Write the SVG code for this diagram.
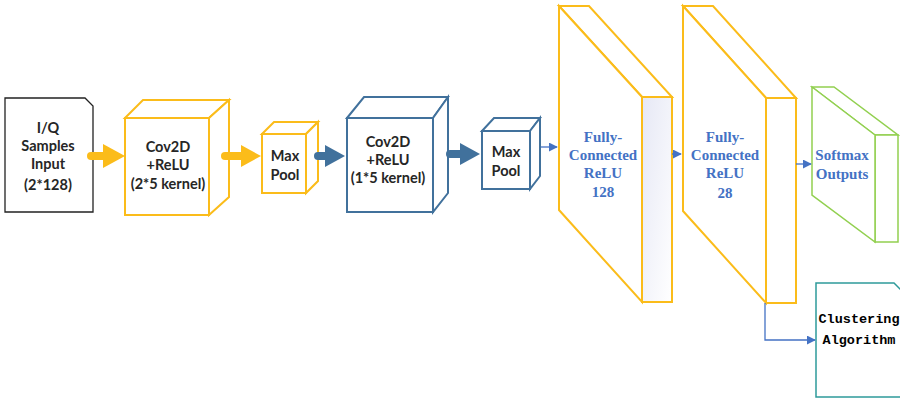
<svg xmlns="http://www.w3.org/2000/svg" width="900" height="401" viewBox="0 0 900 401">
<defs>
<linearGradient id="side" x1="0" y1="0" x2="1" y2="1">
<stop offset="0" stop-color="#e6e8f5"/>
<stop offset="1" stop-color="#ffffff"/>
</linearGradient>
<marker id="ah" viewBox="0 0 10 10" refX="9" refY="5" markerWidth="9" markerHeight="9" markerUnits="userSpaceOnUse" orient="auto">
<path d="M0,0 L10,5 L0,10 z" fill="#4472C4"/>
</marker>
<style>
.y{fill:#fff;stroke:#FBBC1A;stroke-width:2;stroke-linejoin:miter}
.b{fill:#fff;stroke:#41719C;stroke-width:2;stroke-linejoin:miter}
.g{fill:#fff;stroke:#92D050;stroke-width:1.5}
.t{font-family:Lato,"Open Sans","Liberation Sans",sans-serif;font-weight:bold;font-size:14.5px;fill:#262626;text-anchor:middle}
.f{font-family:"Liberation Serif","Times New Roman",serif;font-weight:bold;font-size:15px;fill:#4472C4;text-anchor:middle}
.m{font-family:"Liberation Mono","Courier New",monospace;font-weight:bold;font-size:13.5px;fill:#000;text-anchor:middle}
.thin{fill:none;stroke:#4472C4;stroke-width:1.3;marker-end:url(#ah)}
</style>
</defs>
<rect width="900" height="401" fill="#fff"/>

<g id="input">
<polygon points="5,98 85,98 93,106 93,212 5,212" fill="#fff" stroke="#222" stroke-width="1.3"/>
<text class="t" x="48" y="133">I/Q</text>
<text class="t" x="48" y="151">Samples</text>
<text class="t" x="48" y="169">Input</text>
<text class="t" x="48" y="190">(2*128)</text>
</g>

<g id="conv1">
<polygon class="y" points="125,118 143,100 229,100 209,118"/>
<polygon class="y" points="209,118 229,100 229,197 209,215"/>
<rect class="y" x="125" y="118" width="84" height="97"/>
<text class="t" x="168" y="152">Cov2D</text>
<text class="t" x="168" y="170">+ReLU</text>
<text class="t" x="168" y="189">(2*5 kernel)</text>
</g>

<g id="pool1">
<polygon class="y" points="262,134 274,122 318,122 306,134"/>
<polygon class="y" points="306,134 318,122 318,181 306,193"/>
<rect class="y" x="262" y="134" width="44" height="59"/>
<text class="t" x="285" y="161">Max</text>
<text class="t" x="285" y="180">Pool</text>
</g>

<g id="conv2">
<polygon class="b" points="347,118 364,97 448,97 433,118"/>
<polygon class="b" points="433,118 448,97 448,193 433,212"/>
<rect class="b" x="347" y="118" width="86" height="94"/>
<text class="t" x="388" y="147">Cov2D</text>
<text class="t" x="388" y="165">+ReLU</text>
<text class="t" x="388" y="183">(1*5 kernel)</text>
</g>

<g id="pool2">
<polygon class="b" points="482,131 494,118 540,118 530,131"/>
<polygon class="b" points="530,131 540,118 540,176 530,189"/>
<rect class="b" x="482" y="131" width="48" height="58"/>
<text class="t" x="506" y="157">Max</text>
<text class="t" x="506" y="176">Pool</text>
</g>

<g id="fc1">
<polygon class="y" points="559,6 589,6 672,97 642,97"/>
<polygon points="642,97 672,97 672,302 642,302" fill="url(#side)" stroke="#FBBC1A" stroke-width="2"/>
<polygon class="y" points="559,6 642,97 642,302 559,210"/>
<text class="f" x="603" y="142">Fully-</text>
<text class="f" x="603" y="160">Connected</text>
<text class="f" x="603" y="178">ReLU</text>
<text class="f" x="603" y="197">128</text>
</g>

<g id="fc2">
<polygon class="y" points="683,6 713,6 796,98 766,98"/>
<polygon class="y" points="766,98 796,98 796,303 766,303"/>
<polygon class="y" points="683,6 766,98 766,303 683,211"/>
<text class="f" x="725" y="142">Fully-</text>
<text class="f" x="725" y="160">Connected</text>
<text class="f" x="725" y="178">ReLU</text>
<text class="f" x="725" y="198">28</text>
</g>

<g id="softmax">
<polygon class="g" points="812,87 834,87 898,135 875,135"/>
<polygon class="g" points="875,135 898,135 898,242 875,242"/>
<polygon class="g" points="812,87 875,135 875,242 812,195"/>
<text class="f" x="842" y="160">Softmax</text>
<text class="f" x="842" y="179">Outputs</text>
</g>

<g id="clustering">
<polygon points="816,283 894,283 904,293 904,397 816,397" fill="#fff" stroke="#2E9A9A" stroke-width="1.5"/>
<text class="m" x="859" y="323">Clustering</text>
<text class="m" x="859" y="344">Algorithm</text>
</g>

<g id="connectors">
<line x1="91" y1="156" x2="104" y2="156" stroke="#FBBC1A" stroke-width="8" stroke-linecap="round"/>
<polygon points="103,144 125,156 103,168" fill="#FBBC1A"/>
<line x1="225" y1="156" x2="242" y2="156" stroke="#FBBC1A" stroke-width="8" stroke-linecap="round"/>
<polygon points="241,145 261,156 241,167" fill="#FBBC1A"/>
<line x1="318" y1="156" x2="326" y2="156" stroke="#41719C" stroke-width="8" stroke-linecap="round"/>
<polygon points="325,145 345,156 325,167" fill="#41719C"/>
<line x1="450" y1="154" x2="461" y2="154" stroke="#41719C" stroke-width="8" stroke-linecap="round"/>
<polygon points="460,143 480,154 460,165" fill="#41719C"/>
<line class="thin" x1="541" y1="147" x2="557" y2="147"/>
<line class="thin" x1="672" y1="154" x2="681" y2="154"/>
<line class="thin" x1="796" y1="164" x2="811" y2="164"/>
<polyline class="thin" points="765,303 765,340 815,340"/>
</g>
</svg>
